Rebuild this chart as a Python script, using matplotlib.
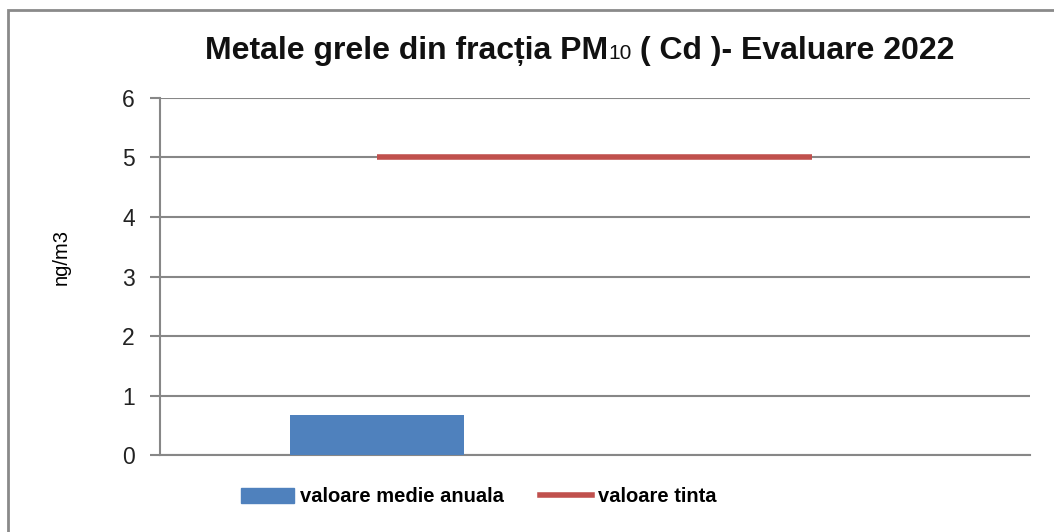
import matplotlib
matplotlib.use("Agg")
import matplotlib.pyplot as plt
from matplotlib.offsetbox import TextArea, HPacker, AnchoredOffsetbox
from matplotlib.patches import Rectangle
from matplotlib.lines import Line2D

plt.rcParams['font.family'] = ['Liberation Sans', 'DejaVu Sans']

categories = ["Statie", ""]
annual_mean = [0.67, None]
target_value = [5, 5]
y_ticks = [0, 1, 2, 3, 4, 5, 6]

bar_color = "#4F81BD"
line_color = "#C0504D"
grid_color = "#878787"

fig = plt.figure(figsize=(10.54, 5.32), dpi=100)
ax = fig.add_axes([0.1518, 0.1447, 0.8254, 0.6711])

x = list(range(len(categories)))
ax.bar([x[0]], [annual_mean[0]], width=0.4, color=bar_color, zorder=3)
ax.plot(x, target_value, color=line_color, linewidth=4, solid_capstyle="butt", zorder=4)

ax.set_xlim(-0.5, 1.5)
ax.set_ylim(0, 6)
ax.set_yticks(y_ticks)
ax.set_yticklabels([str(t) for t in y_ticks], fontsize=16.5, color="#222222")
ax.set_xticks([])
ax.yaxis.grid(True, color=grid_color, linewidth=1.5)
ax.set_axisbelow(True)
for s in ["top", "right"]:
    ax.spines[s].set_visible(False)
for s in ["left", "bottom"]:
    ax.spines[s].set_color(grid_color)
    ax.spines[s].set_linewidth(1.5)
ax.tick_params(axis="y", length=7, width=1.5, color=grid_color, pad=11)
ax.set_ylabel("ng/m3", fontsize=14.5)
ax.yaxis.set_label_coords(-0.103, 0.555)

# title with smaller "10"
bold = dict(fontsize=23, fontweight="bold", color="#111111")
small = dict(fontsize=15, fontweight="normal", color="#111111")
pieces = [
    TextArea("Metale grele din fracția PM", textprops=bold),
    TextArea("10", textprops=small),
    TextArea(" ( Cd )- Evaluare 2022", textprops=bold),
]
box = HPacker(children=pieces, align="baseline", pad=0, sep=0)
anchored = AnchoredOffsetbox(loc="center", child=box, frameon=False,
                             bbox_to_anchor=(0.550, 0.904),
                             bbox_transform=fig.transFigure, borderpad=0, pad=0)
fig.add_artist(anchored)

handles = [
    Rectangle((0, 0), 1, 1, color=bar_color),
    Line2D([0], [0], color=line_color, linewidth=4),
]
fig.legend(handles, ["valoare medie anuala", "valoare tinta"], loc="center",
           bbox_to_anchor=(0.4545, 0.066), ncol=2, frameon=False,
           prop=dict(size=14.5, weight="bold"),
           handlelength=2.6, handleheight=0.75,
           handletextpad=0.3, columnspacing=1.8)

# outer chart frame
frame = Rectangle((0.0075, -0.1), 1.2, 1.082, transform=fig.transFigure,
                  fill=False, edgecolor="#8a8a8a", linewidth=2)
fig.add_artist(frame)

fig.savefig("out.png", dpi=100)
